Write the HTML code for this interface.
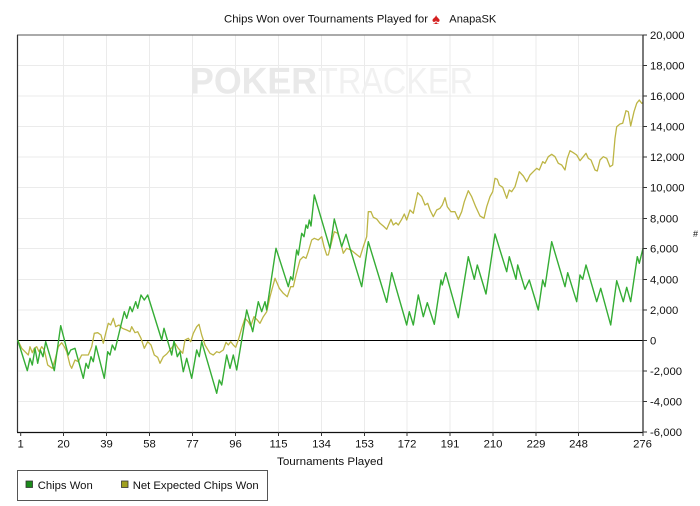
<!DOCTYPE html>
<html><head><meta charset="utf-8"><style>
html,body{margin:0;padding:0;background:#fff;width:700px;height:506px;overflow:hidden}
svg{display:block}
text{font-family:"Liberation Sans",Arial,sans-serif;fill:#111}
</style></head><body>
<svg width="700" height="506" viewBox="0 0 700 506" xmlns="http://www.w3.org/2000/svg">
<rect width="700" height="506" fill="#fff"/>
<!-- title -->
<text x="224" y="22.5" font-size="11.3" textLength="204" lengthAdjust="spacingAndGlyphs">Chips Won over Tournaments Played for</text>
<text x="432" y="24" font-size="15" style="fill:#d42020">♠</text>
<text x="449.3" y="22.5" font-size="11.3" textLength="47" lengthAdjust="spacingAndGlyphs">AnapaSK</text>
<!-- grid -->
<g stroke="#ebebeb" stroke-width="1">
<line x1="63.5" y1="35" x2="63.5" y2="432"/>
<line x1="106.5" y1="35" x2="106.5" y2="432"/>
<line x1="149.5" y1="35" x2="149.5" y2="432"/>
<line x1="192.5" y1="35" x2="192.5" y2="432"/>
<line x1="235.5" y1="35" x2="235.5" y2="432"/>
<line x1="278.5" y1="35" x2="278.5" y2="432"/>
<line x1="321.5" y1="35" x2="321.5" y2="432"/>
<line x1="364.5" y1="35" x2="364.5" y2="432"/>
<line x1="407" y1="35" x2="407" y2="432"/>
<line x1="450" y1="35" x2="450" y2="432"/>
<line x1="493" y1="35" x2="493" y2="432"/>
<line x1="536" y1="35" x2="536" y2="432"/>
<line x1="578.5" y1="35" x2="578.5" y2="432"/>
<line x1="17" y1="65.5" x2="643" y2="65.5"/>
<line x1="17" y1="96" x2="643" y2="96"/>
<line x1="17" y1="126.5" x2="643" y2="126.5"/>
<line x1="17" y1="157" x2="643" y2="157"/>
<line x1="17" y1="187.5" x2="643" y2="187.5"/>
<line x1="17" y1="218.5" x2="643" y2="218.5"/>
<line x1="17" y1="248.5" x2="643" y2="248.5"/>
<line x1="17" y1="279.5" x2="643" y2="279.5"/>
<line x1="17" y1="310" x2="643" y2="310"/>
<line x1="17" y1="371" x2="643" y2="371"/>
<line x1="17" y1="401.5" x2="643" y2="401.5"/>
</g>
<!-- watermark -->
<text x="190" y="93.3" font-size="37" font-weight="bold" textLength="127" lengthAdjust="spacingAndGlyphs" style="fill:#e9e9e9">POKER</text>
<text x="318" y="93.3" font-size="37" textLength="155" lengthAdjust="spacingAndGlyphs" style="fill:#f1f1f1">TRACKER</text>
<!-- borders -->
<line x1="17" y1="35" x2="643" y2="35" stroke="#777" stroke-width="1.2"/>
<line x1="17.5" y1="35" x2="17.5" y2="432" stroke="#333" stroke-width="1.2"/>
<!-- zero line -->
<line x1="17" y1="340.5" x2="643" y2="340.5" stroke="#000" stroke-width="1"/>
<!-- series -->
<polyline fill="none" stroke="#bdb545" stroke-width="1.3" stroke-linejoin="round" points="17.7,340 21.7,348.3 25,351.7 28.3,355 30,346.7 32.3,352.7 34.3,348.3 36.7,346.7 39,351.7 41.7,346.7 44.3,350 47.7,365 50,366.7 52.3,368.3 55,360 58.3,346.7 61.7,342.7 64.3,346.7 66.7,351.7 70,365 71.7,368.3 75,360 78.3,361.7 81.7,355 85,355 88.3,355 91.7,346.7 94.3,333.3 97.7,332.7 101,335 103.3,343.3 105.7,333.3 108.3,323.3 110.7,325 113.3,318.3 115.7,326.7 119,325 122.3,328.3 126.7,330 130,331.7 131.7,326.7 135,332.7 137.7,331.7 141,338.3 144.3,348.3 147.7,341.7 151,345 154.3,355 157.7,357.3 160,363.3 163.3,356.7 166.7,354 170,350 175,343.3 178.3,348.3 182.7,353.3 185,340 188.3,338.3 190.7,341.7 193.3,333.3 196.7,326.7 199,324.3 201.7,335 205,345 210,353.3 213.3,355 216.7,351.7 219.3,352.7 223.3,350 226,342.3 228.3,345 230.7,341.7 233.3,345 235.7,347.3 238.3,340 241.7,328.3 245,318.3 248.3,321.7 250.7,326 254,316.7 257.3,320 260,323.3 263.3,316.7 266.7,311.7 270,296.7 275,278.3 279.3,288.3 283.3,293.3 287.3,296.7 290.7,286.7 293.3,286.7 296,275 300,260 303.3,256.7 306,258.3 308.3,251.7 311.7,240 314.3,238.3 318.3,240 321.7,236.7 324,246.7 326.7,255 328.3,255 334.3,231.7 337.7,233.3 340,240 343.3,253.3 346.7,248.3 351,250 355,253.3 360,257.3 363.3,246.7 366.7,236.7 368.3,211.7 371,211.7 373.3,217.3 376.7,219 380,223.3 383.3,226 386.7,229.3 391,219.3 393.3,225 396,222.7 398.3,225 401.7,219.3 404.3,214 406.7,220 410,210 413.3,213.3 417.7,192.7 421.7,196.7 425,205 427.7,203.3 430,210 433.3,216.7 436.7,210 440,208.3 442.3,205 445,197.7 447.3,206.7 451,211.7 455,211.7 458.3,219.3 461.7,211.7 464.3,201.7 468.3,190.7 471.7,196.7 475.7,206.7 480,216 484,218.3 486.7,206.7 490,196.7 492.7,191.7 495,178.3 497.3,179.3 499.3,185 502.7,187.3 506.7,198.3 509.3,190 511.7,191.7 515,186.7 519.3,171.7 523.3,176 526.7,181.7 530,175 533.3,171.7 536.7,168.3 539.3,170 542.7,161.7 545,163.3 548.3,156.7 551.7,154.3 555,156.7 558.3,163.3 561.7,165 565,170 567.3,158.3 570,150.7 573.3,152.7 576.7,155 580,160.7 583.3,156.7 586,153.3 588.3,158.3 591,160 595,170 597.3,171 600,160 603.3,156.7 606.7,158.3 610,166.7 612.7,165 615,138.3 616.7,126.7 620,124 622.7,123.3 626,110.7 628.3,111.7 630.7,126 634,111.7 636.7,103.3 639.3,100 641.7,103.3 643,102.5"/>
<polyline fill="none" stroke="#35ad35" stroke-width="1.4" stroke-linejoin="round" points="17.7,340 27.3,370.7 30,358.3 32.3,365 35,348.3 37.7,363.3 40.3,350 43,356.7 45.7,341.7 54.3,370.7 60.7,325.7 68.3,355 70.7,350 75,348.3 83.3,378.3 86,363.3 88.3,368.3 91,356.7 93.3,361.7 96,346 104.3,378.3 107.7,351.7 110,355 112.3,345 115,350 121,325 124.3,311.7 126.7,318.3 130,306.7 132.3,311.7 135.7,301.7 137.7,308.3 141,295 144.3,300 147.7,295 161.7,340 164,328.3 171.7,355 174,341 177.3,356.7 180,351.7 183.3,371.7 186.7,358.3 191.7,378.3 196.7,350 199.3,356.7 201.7,341.7 216.7,393.3 219.3,380 221.7,385 226.7,355 230,368.3 233.3,355 236.7,370 246.7,310 252.7,331.7 258.3,301.7 261.7,311.7 265,301.7 266.7,310 276,248.3 288.3,286.7 290.7,276.7 292.7,280 296.7,250 298.3,255 301.7,233.3 304,236.7 306,225 307.7,228.3 309.3,220 311,226 314.3,195 330,248.3 334.3,219 341.7,246.7 346,234.3 350,248.3 361.7,286.7 368.3,241.7 386.7,302.3 391.7,272.7 406.7,325 409.3,311.7 413.3,325 418.3,295 423.3,316.7 427.3,302.7 434.3,324.3 441,280 442.3,285 445.7,272.7 458.3,317.7 468.3,256.7 474.3,279.3 477.3,265 486,294 495,234 506.7,271.7 509.3,256.7 516,279.3 517.7,265 525,289.3 529.3,280 538.3,310 542.7,280 545,286.7 551.7,241.7 565,286.7 567.7,272.7 576.7,301.7 580,275 582.7,279.3 586,265 596.7,301.7 600.7,288.3 610.7,325 616.7,280.7 623.3,301.7 626.7,287.3 630.7,301.7 637.3,256.7 639.3,263.3 643,248.3"/>
<!-- axes -->
<line x1="17" y1="432.5" x2="643" y2="432.5" stroke="#111" stroke-width="1.3"/>
<line x1="643" y1="35" x2="643" y2="432.5" stroke="#333" stroke-width="1.3"/>
<g stroke="#333" stroke-width="1">
<line x1="643" y1="35" x2="647" y2="35"/><line x1="643" y1="65.5" x2="647" y2="65.5"/><line x1="643" y1="96" x2="647" y2="96"/><line x1="643" y1="126.5" x2="647" y2="126.5"/><line x1="643" y1="157" x2="647" y2="157"/><line x1="643" y1="187.5" x2="647" y2="187.5"/><line x1="643" y1="218.5" x2="647" y2="218.5"/><line x1="643" y1="248.5" x2="647" y2="248.5"/><line x1="643" y1="279.5" x2="647" y2="279.5"/><line x1="643" y1="310" x2="647" y2="310"/><line x1="643" y1="340.5" x2="647" y2="340.5"/><line x1="643" y1="371" x2="647" y2="371"/><line x1="643" y1="401.5" x2="647" y2="401.5"/><line x1="643" y1="432" x2="647" y2="432"/>
<line x1="20.7" y1="432" x2="20.7" y2="436"/><line x1="63.5" y1="432" x2="63.5" y2="436"/><line x1="106.5" y1="432" x2="106.5" y2="436"/><line x1="149.5" y1="432" x2="149.5" y2="436"/><line x1="192.5" y1="432" x2="192.5" y2="436"/><line x1="235.5" y1="432" x2="235.5" y2="436"/><line x1="278.5" y1="432" x2="278.5" y2="436"/><line x1="321.5" y1="432" x2="321.5" y2="436"/><line x1="364.5" y1="432" x2="364.5" y2="436"/><line x1="407" y1="432" x2="407" y2="436"/><line x1="450" y1="432" x2="450" y2="436"/><line x1="493" y1="432" x2="493" y2="436"/><line x1="536" y1="432" x2="536" y2="436"/><line x1="578.5" y1="432" x2="578.5" y2="436"/><line x1="643" y1="432" x2="643" y2="436"/>
</g>
<!-- y labels -->
<g font-size="11.3">
<text x="650" y="39">20,000</text>
<text x="650" y="69.5">18,000</text>
<text x="650" y="100">16,000</text>
<text x="650" y="130.5">14,000</text>
<text x="650" y="161">12,000</text>
<text x="650" y="191.5">10,000</text>
<text x="650" y="222.5">8,000</text>
<text x="650" y="252.5">6,000</text>
<text x="650" y="283.5">4,000</text>
<text x="650" y="314">2,000</text>
<text x="650" y="344.5">0</text>
<text x="650" y="375">-2,000</text>
<text x="650" y="405.5">-4,000</text>
<text x="650" y="436">-6,000</text>
</g>
<text x="693" y="237" font-size="9">#</text>
<!-- x labels -->
<g font-size="11.3" text-anchor="middle">
<text x="20.7" y="447.5">1</text>
<text x="63.5" y="447.5">20</text>
<text x="106.5" y="447.5">39</text>
<text x="149.5" y="447.5">58</text>
<text x="192.5" y="447.5">77</text>
<text x="235.5" y="447.5">96</text>
<text x="278.5" y="447.5">115</text>
<text x="321.5" y="447.5">134</text>
<text x="364.5" y="447.5">153</text>
<text x="407" y="447.5">172</text>
<text x="450" y="447.5">191</text>
<text x="493" y="447.5">210</text>
<text x="536" y="447.5">229</text>
<text x="578.5" y="447.5">248</text>
<text x="642.5" y="447.5">276</text>
</g>
<text x="277" y="465" font-size="11.3" textLength="106" lengthAdjust="spacingAndGlyphs">Tournaments Played</text>
<!-- legend -->
<rect x="17.5" y="470.5" width="250" height="30" fill="#fff" stroke="#555" stroke-width="1"/>
<rect x="26" y="481" width="6.5" height="6.5" fill="#1a8a1a" stroke="#333" stroke-width="0.8"/>
<text x="37.7" y="489" font-size="11.3">Chips Won</text>
<rect x="121.5" y="481" width="6.5" height="6.5" fill="#a0a020" stroke="#333" stroke-width="0.8"/>
<text x="132.7" y="489" font-size="11.3" textLength="126" lengthAdjust="spacingAndGlyphs">Net Expected Chips Won</text>
</svg>
</body></html>
